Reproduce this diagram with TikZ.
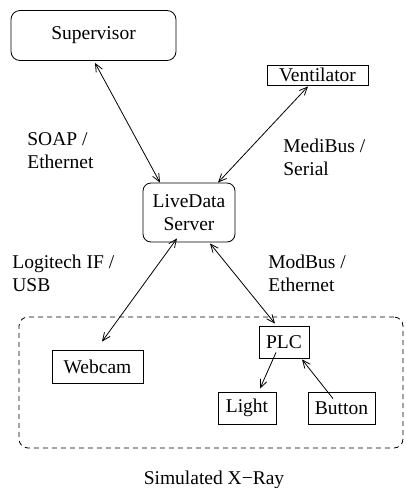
\documentclass[tikz,border=0pt]{standalone}
\usepackage{fontspec}
\setmainfont{Liberation Serif}
\usetikzlibrary{arrows.meta}

\begin{document}
\begin{tikzpicture}[x=1pt,y=-1pt,
  line width=0.8pt,
  font=\fontsize{19.5}{23}\selectfont,
  box/.style={draw, inner sep=0pt, align=center},
  rbox/.style={box, rounded corners=9pt},
  label/.style={inner sep=0pt, align=left, anchor=west},
  link/.style={{Straight Barb[length=8pt,width=7pt]}-{Straight Barb[length=8pt,width=7pt]}},
  onelink/.style={-{Straight Barb[length=8pt,width=7pt]}},
  group/.style={draw, dash pattern=on 5pt off 4pt, rounded corners=9pt}
]
\useasboundingbox (0,0) rectangle (405,488);

% enclosure of the simulated X-Ray device
\node[group, minimum width=384pt, minimum height=131pt] (xray) at (211,382.5) {};
\node[inner sep=0pt] (xraylabel) at (214,480) {Simulated X−Ray};

% components
\node[rbox, minimum width=165pt, minimum height=50pt] (sup) at (93.5,35.5) {Supervisor};
\node[box, minimum width=101pt, minimum height=20pt] (vent) at (317.5,75) {Ventilator};
\node[rbox, rounded corners=8pt, minimum width=92pt, minimum height=59pt] (live) at (189,212.5) {LiveData\\Server};
\node[box, minimum width=50pt, minimum height=32pt] (plc) at (284,342) {PLC};
\node[box, minimum width=91pt, minimum height=33pt] (webcam) at (97.5,366.5) {Webcam};
\node[box, minimum width=58pt, minimum height=32pt] (light) at (247,408) {Light};
\node[box, minimum width=67pt, minimum height=32pt] (button) at (341.5,408) {Button};

% protocol labels
\node[label] (l1) at (27,151) {SOAP /\\Ethernet};
\node[label] (l2) at (283,157.5) {MediBus /\\Serial};
\node[label] (l3) at (12,273) {Logitech IF /\\USB};
\node[label] (l4) at (268,273) {ModBus /\\Ethernet};

% free ends of connectors
\coordinate (webtop) at ([xshift=4.5pt,yshift=8pt]webcam.north);
\coordinate (plcout) at ([xshift=-8pt,yshift=6pt]plc.south);
\coordinate (btnout) at ([xshift=-8.5pt,yshift=-7pt]button.north);

% connections
\draw[link] ([xshift=1.5pt,yshift=-2pt]sup.south) -- ([xshift=-29pt]live.north);
\draw[link] ([xshift=-9.5pt,yshift=-1pt]vent.south) -- ([xshift=29pt]live.north);
\draw[link] ([xshift=-12pt,yshift=4pt]live.south) -- (webtop);
\draw[link] ([xshift=21pt,yshift=-1pt]live.south) -- ([xshift=-9pt,yshift=2pt]plc.north);
\draw[onelink] (plcout) -- ([xshift=13pt,yshift=3pt]light.north);
\draw[onelink] (btnout) -- ([xshift=18pt,yshift=-1pt]plc.south);
\end{tikzpicture}
\end{document}
